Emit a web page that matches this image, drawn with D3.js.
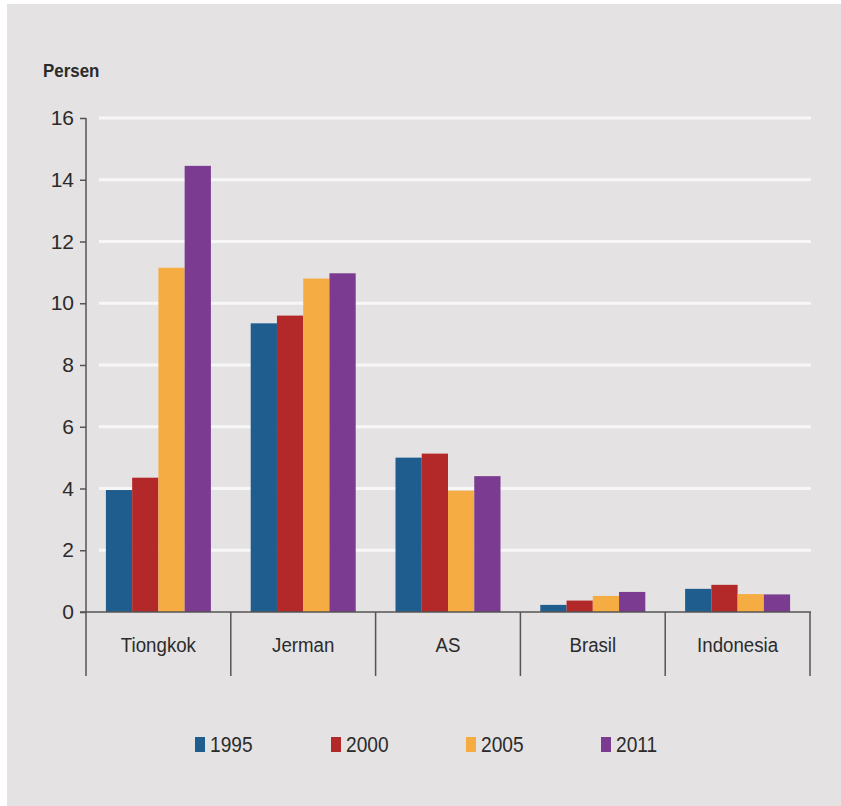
<!DOCTYPE html>
<html>
<head>
<meta charset="utf-8">
<script src="https://cdn.jsdelivr.net/npm/d3@7"></script>
<style>
  html, body { margin: 0; padding: 0; background: #ffffff; }
  svg { display: block; }
  text { font-family: "Liberation Sans", Arial, sans-serif; fill: #2b2b2b; }
</style>
</head>
<body>
<svg id="chart" width="841" height="806"></svg>
<script>
// Share by country and year (percent)
const categories = ["Tiongkok", "Jerman", "AS", "Brasil", "Indonesia"];
const years = ["1995", "2000", "2005", "2011"];
const v1995 = [3.95, 9.35, 5.0, 0.23, 0.75];
const v2000 = [4.35, 9.6, 5.13, 0.37, 0.88];
const v2005 = [11.15, 10.8, 3.93, 0.52, 0.58];
const v2011 = [14.45, 10.97, 4.4, 0.65, 0.57];
const yTicks = [0, 2, 4, 6, 8, 10, 12, 14, 16];
const colors = ["#205d8f", "#b3292a", "#f5ac43", "#7a3b90"];
const yAxisTitle = "Persen";

const series = [v1995, v2000, v2005, v2011];
const narrow = 0.89; // horizontal squeeze for a condensed look

const svg = d3.select("#chart");

// panel background
svg.append("rect")
  .attr("x", 7).attr("y", 4)
  .attr("width", 834).attr("height", 802)
  .attr("fill", "#e4e2e3");

const plotLeft = 86, plotRight = 810, plotTop = 118, plotBottom = 612;

const x0 = d3.scaleBand().domain(categories).range([plotLeft, plotRight]).padding(0);
const x1 = d3.scaleBand().domain(years).range([0, x0.bandwidth()])
  .paddingInner(0).paddingOuter(0.758);
const y = d3.scaleLinear().domain([0, 16]).range([plotBottom, plotTop]);

// gridlines
svg.append("g")
  .selectAll("line")
  .data(yTicks.filter(d => d > 0))
  .join("line")
  .attr("x1", 99).attr("x2", plotRight + 1)
  .attr("y1", d => y(d)).attr("y2", d => y(d))
  .attr("stroke", "#f7f7f7")
  .attr("stroke-width", 3);

// bars
const groups = svg.append("g")
  .selectAll("g")
  .data(categories)
  .join("g")
  .attr("transform", d => `translate(${x0(d)},0)`);

groups.selectAll("rect")
  .data((c, i) => years.map((yr, j) => ({ yr, j, v: series[j][i] })))
  .join("rect")
  .attr("x", d => x1(d.yr))
  .attr("width", x1.bandwidth())
  .attr("y", d => y(d.v))
  .attr("height", d => y(0) - y(d.v))
  .attr("fill", d => colors[d.j]);

// y axis
const yAxis = d3.axisLeft(y).tickValues(yTicks).tickSize(6).tickPadding(6);
const gy = svg.append("g").attr("transform", `translate(${plotLeft},0)`).call(yAxis);
gy.select(".domain").attr("stroke", "#555").attr("stroke-width", 1.5)
  .attr("d", `M0,${plotTop}V${plotBottom}`);
gy.selectAll(".tick line").attr("stroke", "#555").attr("stroke-width", 1.5);
gy.selectAll(".tick text")
  .style("font-size", "21px")
  .style("font-family", "'Liberation Sans', Arial, sans-serif")
  .attr("fill", "#2b2b2b");

// baseline
svg.append("line")
  .attr("x1", plotLeft - 6).attr("x2", plotRight + 1)
  .attr("y1", plotBottom).attr("y2", plotBottom)
  .attr("stroke", "#555").attr("stroke-width", 1.5);

// category separators
const seps = categories.map(c => x0(c)).concat([plotRight]);
svg.append("g")
  .selectAll("line")
  .data(seps)
  .join("line")
  .attr("x1", d => d).attr("x2", d => d)
  .attr("y1", plotBottom).attr("y2", 676)
  .attr("stroke", "#555").attr("stroke-width", 1.5);

// category labels
svg.append("g")
  .selectAll("text")
  .data(categories)
  .join("text")
  .attr("transform", d => `translate(${x0(d) + x0.bandwidth() / 2},652) scale(${narrow},1)`)
  .attr("text-anchor", "middle")
  .style("font-size", "21px")
  .text(d => d);

// axis title
svg.append("text")
  .attr("transform", `translate(43,77) scale(${narrow},1)`)
  .style("font-size", "19px")
  .style("font-weight", "bold")
  .text(yAxisTitle);

// legend
const legendX = [195, 331, 466, 601];
const legend = svg.append("g")
  .selectAll("g")
  .data(years)
  .join("g")
  .attr("transform", (d, i) => `translate(${legendX[i]},737)`);
legend.append("rect")
  .attr("width", 10).attr("height", 15)
  .attr("fill", (d, i) => colors[i]);
legend.append("text")
  .attr("transform", `translate(15,15) scale(0.87,1)`)
  .style("font-size", "22px")
  .text(d => d);
</script>
</body>
</html>
